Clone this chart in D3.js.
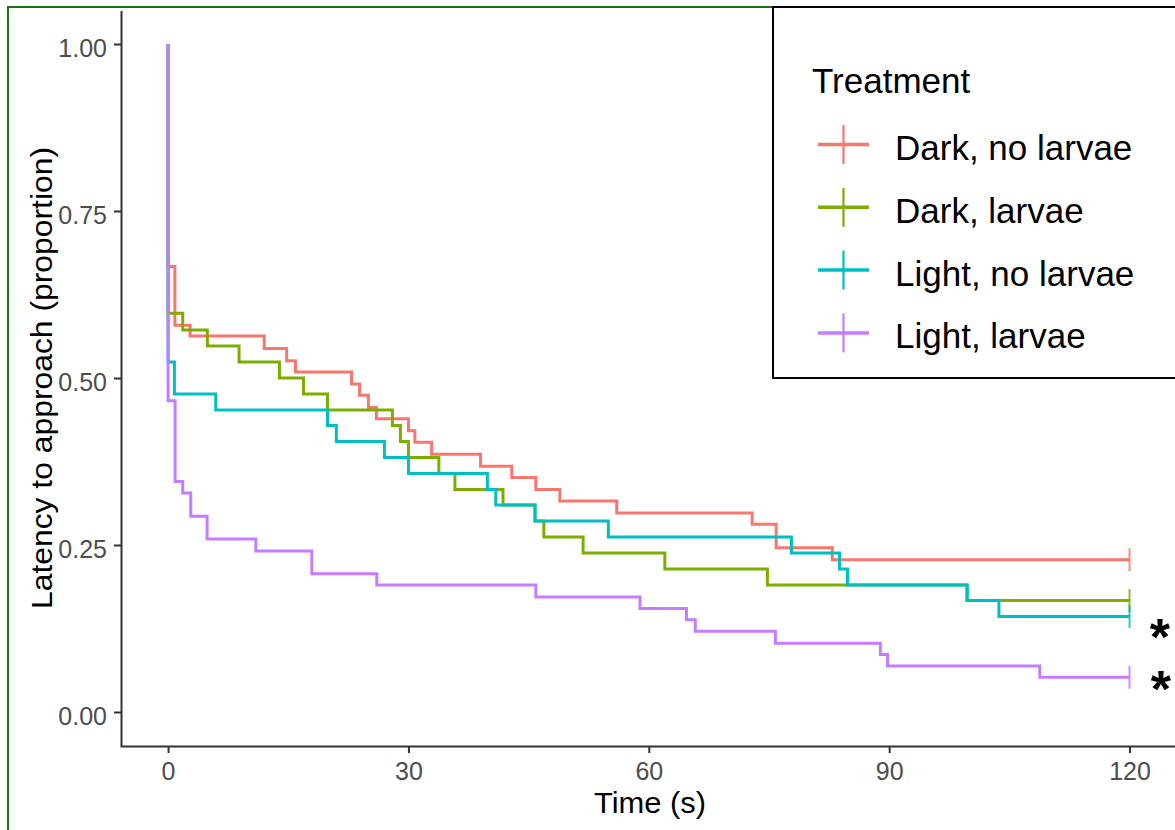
<!DOCTYPE html>
<html>
<head>
<meta charset="utf-8">
<script src="https://cdn.jsdelivr.net/npm/d3@7"></script>
<style>
  body { margin: 0; background: #fff; }
  text { font-family: "Liberation Sans", Arial, sans-serif; }
</style>
</head>
<body>
<script>
// treatments and ggplot hue colours
const treatments = ["Dark, no larvae", "Dark, larvae", "Light, no larvae", "Light, larvae"];
const colors = ["#F8766D", "#7CAE00", "#00BFC4", "#C77CFF"];

// Kaplan-Meier steps (time s, proportion left)
const darkNoLarvaeTime = [0, 0, 0.85, 2.75, 12, 14.8, 15.9, 22.9, 23.9, 25, 26, 30, 30.8, 32.9, 39, 42.9, 45.9, 48.9, 56, 72.9, 75.9, 82.9, 120];
const darkNoLarvaeSurv = [1, 0.667, 0.579, 0.563, 0.544, 0.526, 0.509, 0.491, 0.474, 0.456, 0.439, 0.421, 0.404, 0.386, 0.368, 0.351, 0.333, 0.316, 0.298, 0.281, 0.246, 0.228, 0.228];

const darkLarvaeTime = [0, 0, 1.83, 4.9, 8.86, 13.9, 16.9, 19.9, 28, 29, 30, 33.8, 35.8, 41.8, 45.8, 46.9, 51.8, 62, 74.8, 99.7, 120];
const darkLarvaeSurv = [1, 0.597, 0.572, 0.548, 0.524, 0.5, 0.476, 0.452, 0.429, 0.405, 0.381, 0.357, 0.333, 0.31, 0.286, 0.262, 0.238, 0.214, 0.19, 0.167, 0.167];

const lightNoLarvaeTime = [0, 0, 0.79, 5.95, 19.9, 21, 27, 30, 39.85, 40.9, 45.8, 54.95, 77.8, 83.8, 84.8, 99.75, 103.7, 120];
const lightNoLarvaeSurv = [1, 0.524, 0.476, 0.452, 0.429, 0.405, 0.381, 0.357, 0.333, 0.31, 0.286, 0.262, 0.238, 0.214, 0.19, 0.167, 0.143, 0.143];

const lightLarvaeTime = [0, 0, 0.87, 1.83, 2.83, 4.87, 10.95, 17.94, 26.05, 45.9, 58.9, 64.7, 65.8, 75.8, 88.9, 89.8, 108.8, 120];
const lightLarvaeSurv = [1, 0.466, 0.345, 0.328, 0.293, 0.259, 0.241, 0.207, 0.19, 0.172, 0.155, 0.138, 0.121, 0.103, 0.086, 0.069, 0.052, 0.052];

const xTicks = [0, 30, 60, 90, 120];
const yTicks = [0, 0.25, 0.5, 0.75, 1];

// significance stars: [time, proportion]
const stars = [[123.8, 0.13], [123.9, 0.052]];

const series = [
  { time: darkNoLarvaeTime, surv: darkNoLarvaeSurv },
  { time: darkLarvaeTime, surv: darkLarvaeSurv },
  { time: lightNoLarvaeTime, surv: lightNoLarvaeSurv },
  { time: lightLarvaeTime, surv: lightLarvaeSurv }
];

const w = 1175, h = 830;
const svg = d3.select("body").append("svg").attr("width", w).attr("height", h);

// green frame round the figure
svg.append("rect")
  .attr("x", 8).attr("y", 7).attr("width", 1300).attr("height", 1000)
  .attr("fill", "none").attr("stroke", "#1b6e1b").attr("stroke-width", 2);

const x = d3.scaleLinear().domain([-6, 126]).range([120, 1177.6]);
const y = d3.scaleLinear().domain([-0.05, 1.05]).range([745.4, 10.6]);

// axes
const yAxis = svg.append("g")
  .attr("transform", "translate(121,0)")
  .call(d3.axisLeft(y).tickValues(yTicks).tickFormat(d3.format(".2f"))
    .tickSize(7).tickSizeOuter(0).tickPadding(7));
yAxis.selectAll("text").attr("font-size", 25).attr("fill", "#4d4d4d").attr("dy", "0.5em")
  .style("font-family", "'Liberation Sans', Arial, sans-serif");

const xAxis = svg.append("g")
  .attr("transform", "translate(0,746)")
  .call(d3.axisBottom(x).tickValues(xTicks).tickSize(7).tickSizeOuter(0).tickPadding(9));
xAxis.selectAll("text").attr("font-size", 25).attr("fill", "#4d4d4d")
  .style("font-family", "'Liberation Sans', Arial, sans-serif");

[yAxis, xAxis].forEach(a => {
  a.select(".domain").attr("stroke", "#333").attr("stroke-width", 2);
  a.selectAll(".tick line").attr("stroke", "#333").attr("stroke-width", 2);
});

// axis titles
svg.append("text")
  .attr("x", 650).attr("y", 813)
  .attr("text-anchor", "middle")
  .attr("font-size", 29)
  .attr("textLength", 112).attr("lengthAdjust", "spacingAndGlyphs")
  .text("Time (s)");

svg.append("text")
  .attr("transform", "translate(52,378) rotate(-90)")
  .attr("text-anchor", "middle")
  .attr("font-size", 29)
  .attr("textLength", 462).attr("lengthAdjust", "spacingAndGlyphs")
  .text("Latency to approach (proportion)");

// step curves
const line = d3.line()
  .x(d => x(d[0]))
  .y(d => y(d[1]))
  .curve(d3.curveStepAfter);

series.forEach((s, i) => {
  const pts = s.time.map((t, j) => [t, s.surv[j]]);
  svg.append("path")
    .attr("d", line(pts))
    .attr("fill", "none")
    .attr("stroke", colors[i])
    .attr("stroke-width", 3);
});

// censor marks at the end of each curve
series.forEach((s, i) => {
  const t = s.time[s.time.length - 1];
  const v = s.surv[s.surv.length - 1];
  svg.append("line")
    .attr("x1", x(t)).attr("x2", x(t))
    .attr("y1", y(v) - 11.5).attr("y2", y(v) + 11.5)
    .attr("stroke", colors[i]).attr("stroke-width", 2).attr("opacity", 0.85);
});

// stars
svg.selectAll(".star")
  .data(stars)
  .enter()
  .append("text")
  .attr("class", "star")
  .attr("x", d => x(d[0]))
  .attr("y", d => y(d[1]) + 30)
  .attr("text-anchor", "middle")
  .attr("font-size", 52)
  .attr("font-weight", "bold")
  .text("*");

// legend
const lg = svg.append("g");
lg.append("rect")
  .attr("x", 773).attr("y", 7).attr("width", 500).attr("height", 371)
  .attr("fill", "#fff").attr("stroke", "#000").attr("stroke-width", 2);
lg.append("text").attr("x", 812).attr("y", 93).attr("font-size", 35).text("Treatment");

treatments.forEach((name, i) => {
  const cy = 144.5 + i * 62.8;
  lg.append("line")
    .attr("x1", 818).attr("x2", 869).attr("y1", cy).attr("y2", cy)
    .attr("stroke", colors[i]).attr("stroke-width", 3.5);
  lg.append("line")
    .attr("x1", 843.5).attr("x2", 843.5).attr("y1", cy - 19.5).attr("y2", cy + 19.5)
    .attr("stroke", colors[i]).attr("stroke-width", 2.2);
  lg.append("text")
    .attr("x", 895).attr("y", cy + 15.5)
    .attr("font-size", 35)
    .text(name);
});
</script>
</body>
</html>
